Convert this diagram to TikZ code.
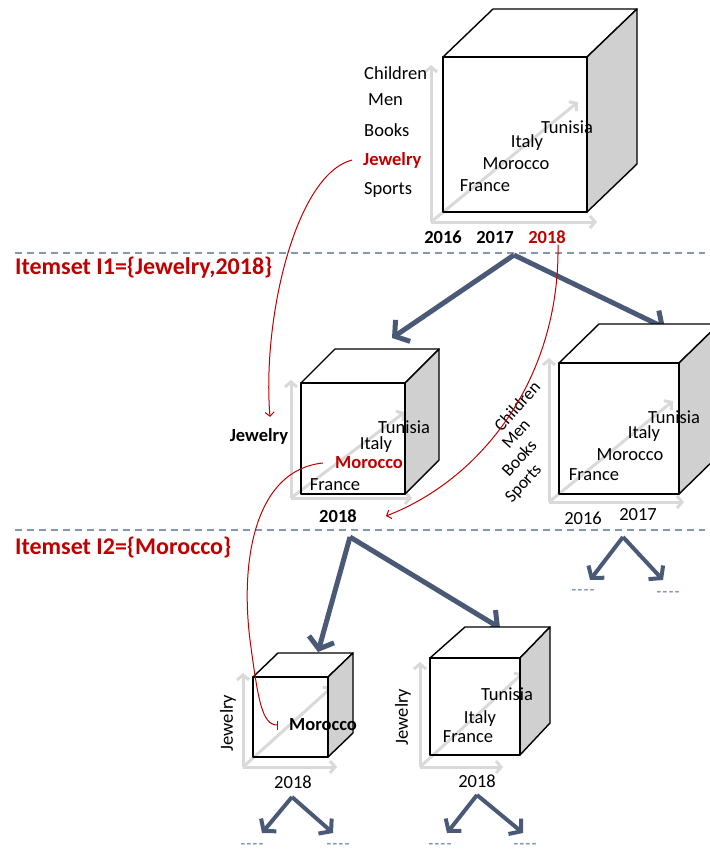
\documentclass[tikz,border=0pt]{standalone}
\usepackage{fontspec}
\setmainfont{Carlito}
\usetikzlibrary{arrows.meta}

\definecolor{slate}{HTML}{4A5A76}
\definecolor{sepblue}{HTML}{8497B0}
\definecolor{itemred}{HTML}{C00000}
\definecolor{axisgray}{HTML}{D9D9D9}
\definecolor{sidegray}{HTML}{D0D0D0}

\begin{document}
\begin{tikzpicture}[
    x=1pt, y=-1pt,
    font=\fontsize{18.5}{22}\selectfont,
    lbl/.style={inner sep=1pt},
    itemset/.style={inner sep=0pt, anchor=west, text=itemred, font=\fontsize{24}{28}\selectfont\bfseries},
    cubeline/.style={draw=black, line width=1.4pt, line join=round},
    topface/.style={cubeline, fill=white},
    sideface/.style={cubeline, fill=sidegray},
    axisarrow/.style={draw=axisgray, line width=3pt, -{Straight Barb[length=5pt,width=12pt]}},
    bigarrow/.style={draw=slate, line width=5pt, -{Straight Barb[length=10pt,width=26pt]}},
    smallarrow/.style={draw=slate, line width=4pt, -{Straight Barb[length=8pt,width=20pt]}},
    redlink/.style={draw=itemred, line width=1pt, -{Straight Barb[length=4pt,width=9pt]}},
    redbar/.style={draw=itemred, line width=1pt, -{Bar[width=9pt]}},
    sep/.style={draw=sepblue, line width=1.3pt, dash pattern=on 7pt off 5pt},
    dashes/.style={inner sep=0pt, text=sepblue, font=\fontsize{15}{18}\selectfont\bfseries}
]
\useasboundingbox (0,0) rectangle (710,852);
\clip (0,0) rectangle (710,852);

% --- Level separators ---
\draw[sep] (15,253) -- (705,253);
\draw[sep] (15,530) -- (705,530);
\node[itemset] (i1) at (15,268) {Itemset I1=\{Jewelry,2018\}};
\node[itemset] (i2) at (15,548) {Itemset I2=\{Morocco\}};

% --- Top cube ---
\draw[axisarrow] (431,222) -- (431,65);
\draw[axisarrow] (431,222) -- (597,222);
\draw[axisarrow] (431,222) -- (578,102);
\draw[topface] (443,57) -- (493,9) -- (637,9) -- (587,57) -- cycle;
\draw[sideface] (587,57) -- (637,9) -- (637,164) -- (587,212) -- cycle;
\draw[cubeline] (443,57) rectangle (587,212);

\node[lbl, anchor=west] (chTop) at (363,73)  {Children};
\node[lbl, anchor=west] (mnTop) at (367,100) {Men};
\node[lbl, anchor=west] (bkTop) at (363,130) {Books};
\node[lbl, anchor=west, text=itemred, font=\fontsize{18.5}{22}\selectfont\bfseries] (jwTop) at (362,160) {Jewelry};
\node[lbl, anchor=west] (spTop) at (363,190) {Sports};
\node[lbl, font=\fontsize{18.5}{22}\selectfont\bfseries] (y16Top) at (443,237) {2016};
\node[lbl, font=\fontsize{18.5}{22}\selectfont\bfseries] (y17Top) at (495,237) {2017};
\node[lbl, text=itemred, font=\fontsize{18.5}{22}\selectfont\bfseries] (y18Top) at (547,237) {2018};
\node[lbl] (tnTop) at (567,127) {Tunisia};
\node[lbl] (itTop) at (527,143) {Italy};
\node[lbl] (moTop) at (516,164) {Morocco};
\node[lbl] (frTop) at (485,186) {France};

% --- Split of top cube ---
\coordinate (s0) at (514,255);
\coordinate (s1) at (392,338);
\coordinate (s2) at (665,328);
\draw[bigarrow] (s0) -- (s1);
\draw[bigarrow] (s0) -- (s2);

% --- Middle left cube (2018) ---
\draw[axisarrow] (291,498) -- (291,380);
\draw[axisarrow] (291,498) -- (412,498);
\draw[axisarrow] (291,498) -- (405,412);
\draw[topface] (301,383) -- (335,349) -- (439,349) -- (405,383) -- cycle;
\draw[sideface] (405,383) -- (439,349) -- (439,460) -- (405,494) -- cycle;
\draw[cubeline] (301,383) rectangle (405,494);

\node[lbl, font=\fontsize{18.5}{22}\selectfont\bfseries] (jwMid) at (259,436) {Jewelry};
\node[lbl] (tnMid) at (404,427) {Tunisia};
\node[lbl] (itMid) at (376,445) {Italy};
\node[lbl, text=itemred, font=\fontsize{18.5}{22}\selectfont\bfseries] (moMid) at (369,463) {Morocco};
\node[lbl] (frMid) at (335,485) {France};
\node[lbl, font=\fontsize{18.5}{22}\selectfont\bfseries] (y18Mid) at (338,516) {2018};

% --- Middle right cube (2016, 2017) ---
\draw[axisarrow] (549,502) -- (549,358);
\draw[axisarrow] (549,502) -- (684,502);
\draw[axisarrow] (549,502) -- (673,401);
\draw[topface] (559,363) -- (599,324) -- (719,324) -- (679,363) -- cycle;
\draw[sideface] (679,363) -- (719,324) -- (719,455) -- (679,494) -- cycle;
\draw[cubeline] (559,363) rectangle (679,494);

\node[lbl, rotate=48, font=\fontsize{17.5}{20}\selectfont] (chRgt) at (517,406) {Children};
\node[lbl, rotate=48, font=\fontsize{17.5}{20}\selectfont] (mnRgt) at (516,434) {Men};
\node[lbl, rotate=48, font=\fontsize{17.5}{20}\selectfont] (bkRgt) at (519,458) {Books};
\node[lbl, rotate=48, font=\fontsize{17.5}{20}\selectfont] (spRgt) at (524,484) {Sports};
\node[lbl] (tnRgt) at (674,417) {Tunisia};
\node[lbl] (itRgt) at (644,434) {Italy};
\node[lbl] (moRgt) at (630,455) {Morocco};
\node[lbl] (frRgt) at (594,475) {France};
\node[lbl] (y16Rgt) at (583,518) {2016};
\node[lbl] (y17Rgt) at (638,515) {2017};

\coordinate (r0) at (623,537);
\coordinate (r1) at (590,580);
\coordinate (r2) at (663,580);
\draw[smallarrow] (r0) -- (r1);
\draw[smallarrow] (r0) -- (r2);
\node[dashes] (dr1) at (583,592) {-\kern1.5pt-\kern1.5pt-\kern1.5pt-};
\node[dashes] (dr2) at (668,594) {-\kern1.5pt-\kern1.5pt-\kern1.5pt-};

% --- Split of middle left cube ---
\coordinate (m0) at (350,537);
\coordinate (m1) at (318,652);
\coordinate (m2) at (500,628);
\draw[bigarrow] (m0) -- (m1);
\draw[bigarrow] (m0) -- (m2);

% --- Bottom left cube (Morocco) ---
\draw[axisarrow] (243,767) -- (243,673);
\draw[axisarrow] (243,767) -- (337,767);
\draw[axisarrow] (243,767) -- (332,687);
\draw[topface] (253,677) -- (278,653) -- (353,653) -- (328,677) -- cycle;
\draw[sideface] (328,677) -- (353,653) -- (353,733) -- (328,757) -- cycle;
\draw[cubeline] (253,677) rectangle (328,757);

\node[lbl, rotate=90] (jwBl) at (228,723) {Jewelry};
\node[lbl, font=\fontsize{18.5}{22}\selectfont\bfseries] (moBl) at (323,725) {Morocco};
\node[lbl] (y18Bl) at (293,782) {2018};

\coordinate (b0) at (292,797);
\coordinate (b1) at (262,833);
\coordinate (b2) at (333,833);
\draw[smallarrow] (b0) -- (b1);
\draw[smallarrow] (b0) -- (b2);
\node[dashes] (db1) at (252,846) {-\kern1.5pt-\kern1.5pt-\kern1.5pt-};
\node[dashes] (db2) at (338,846) {-\kern1.5pt-\kern1.5pt-\kern1.5pt-};

% --- Bottom right cube (rest) ---
\draw[axisarrow] (420,767) -- (420,662);
\draw[axisarrow] (420,767) -- (503,767);
\draw[axisarrow] (420,767) -- (523,673);
\draw[topface] (430,658) -- (465,627) -- (550,627) -- (520,658) -- cycle;
\draw[sideface] (520,658) -- (550,627) -- (550,723) -- (520,755) -- cycle;
\draw[cubeline] (430,658) rectangle (520,755);

\node[lbl, rotate=90] (jwBr) at (403,717) {Jewelry};
\node[lbl] (tnBr) at (507,694) {Tunisia};
\node[lbl] (itBr) at (480,719) {Italy};
\node[lbl] (frBr) at (468,737) {France};
\node[lbl] (y18Br) at (477,781) {2018};

\coordinate (c0) at (477,795);
\coordinate (c1) at (447,833);
\coordinate (c2) at (523,833);
\draw[smallarrow] (c0) -- (c1);
\draw[smallarrow] (c0) -- (c2);
\node[dashes] (dc1) at (440,846) {-\kern1.5pt-\kern1.5pt-\kern1.5pt-};
\node[dashes] (dc2) at (525,846) {-\kern1.5pt-\kern1.5pt-\kern1.5pt-};

% --- Itemset links ---
\draw[redlink] ([xshift=-10pt]jwTop.west) .. controls (295,175) and (262,320) .. ([xshift=11pt,yshift=10pt]jwMid.north);
\draw[redlink] ([xshift=11pt]y18Top.south) .. controls (560,380) and (480,480) .. ([xshift=28pt]y18Mid.east);
\draw[redbar] ([xshift=-11pt]moMid.west) .. controls (255,470) and (240,560) .. (250,640)
    .. controls (258,700) and (262,725) .. ([xshift=-10pt]moBl.west);

\end{tikzpicture}
\end{document}
